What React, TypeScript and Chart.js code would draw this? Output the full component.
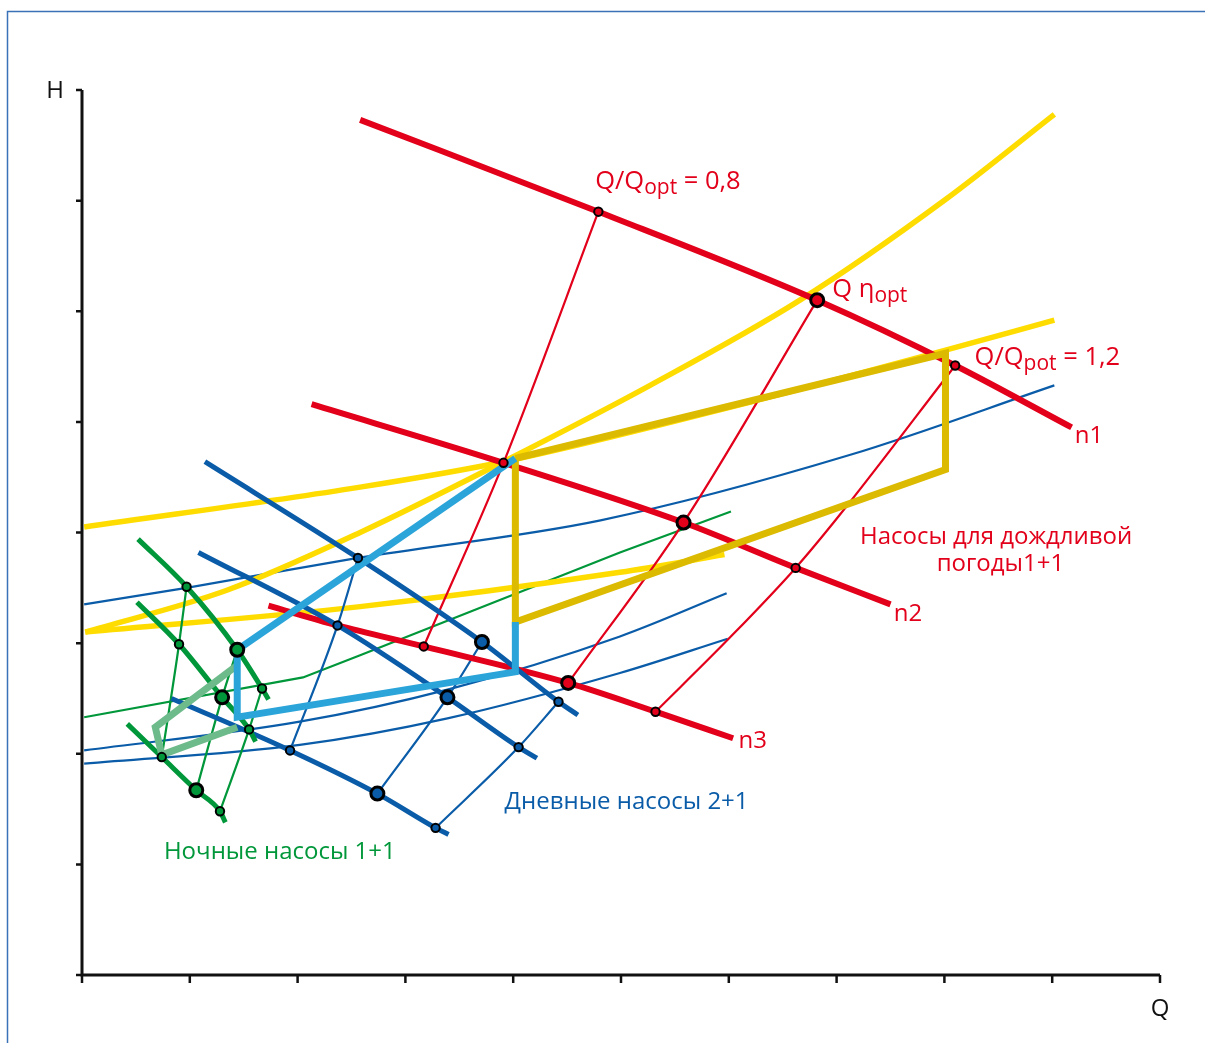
import { useEffect, useRef } from 'react';
import { Chart, registerables } from 'chart.js';

Chart.register(...registerables);

// ---------- axis ticks (relative units, no numbers shown) ----------
const qTickValues = [0, 1, 2, 3, 4, 5, 6, 7, 8, 9, 10];
const hTickValues = [0, 1, 2, 3, 4, 5, 6, 7, 8];

// ---------- yellow system curves ----------
const yellowSteepQ = [0.03, 1.35, 2.58, 3.91, 5.27, 6.66, 8.01, 9.02];
const yellowSteepH = [3.10, 3.48, 4.00, 4.64, 5.33, 6.10, 7.01, 7.78];
const yellowLowQ = [0.03, 2.58, 4.99, 5.96];
const yellowLowH = [3.10, 3.33, 3.64, 3.80];
const yellowHighQ = [0.02, 2.58, 3.91, 6.20, 8.02, 9.02];
const yellowHighH = [4.05, 4.41, 4.64, 5.18, 5.65, 5.92];

// ---------- operating envelopes ----------
const goldQ = [4.02, 8.01, 8.01, 4.02, 4.02];
const goldH = [4.67, 5.62, 4.57, 3.19, 4.67];
const lightBlueQ = [4.02, 1.44, 1.44, 4.02, 4.02];
const lightBlueH = [4.67, 2.94, 2.33, 2.74, 3.19];
const lightGreenQ = [1.44, 0.68, 0.74, 1.44];
const lightGreenH = [2.80, 2.24, 1.99, 2.24];

// ---------- red pump curves (rain pumps) ----------
const redN1Q = [2.58, 4.79, 6.82, 8.10, 9.18];
const redN1H = [7.73, 6.90, 6.10, 5.51, 4.95];
const redN2Q = [2.13, 3.91, 5.58, 6.62, 7.50];
const redN2H = [5.16, 4.63, 4.09, 3.68, 3.35];
const redN3Q = [1.73, 2.37, 3.17, 4.51, 5.32, 6.04];
const redN3H = [3.34, 3.16, 2.97, 2.64, 2.38, 2.14];
const redIso08Q = [3.17, 3.91, 4.79];
const redIso08H = [2.97, 4.63, 6.90];
const redIsoOptQ = [4.51, 5.58, 6.82];
const redIsoOptH = [2.64, 4.09, 6.10];
const redIso12Q = [5.32, 6.01, 6.62, 7.03, 8.10];
const redIso12H = [2.38, 3.05, 3.68, 4.16, 5.51];
const redSmallQ = [4.79, 3.91, 3.17, 5.32, 6.62, 8.10];
const redSmallH = [6.90, 4.63, 2.97, 2.38, 3.68, 5.51];
const redBigQ = [6.82, 5.58, 4.51];
const redBigH = [6.10, 4.09, 2.64];

// ---------- blue (day pumps) ----------
const blueB1Q = [1.14, 2.56, 3.71, 4.42, 4.60];
const blueB1H = [4.64, 3.77, 3.01, 2.47, 2.35];
const blueB2Q = [1.08, 2.37, 3.39, 4.05, 4.22];
const blueB2H = [3.82, 3.16, 2.51, 2.06, 1.96];
const blueB3Q = [0.83, 1.93, 2.74, 3.28, 3.40];
const blueB3H = [2.50, 2.03, 1.64, 1.33, 1.27];
const blueSys1Q = [0.02, 0.97, 2.56, 4.81, 7.12, 9.02];
const blueSys1H = [3.35, 3.50, 3.77, 4.11, 4.70, 5.33];
const blueSys2Q = [0.02, 2.02, 3.39, 4.99, 5.98];
const blueSys2H = [2.03, 2.29, 2.58, 3.06, 3.45];
const blueSys3Q = [0.02, 2.02, 3.39, 4.99, 5.99];
const blueSys3H = [1.91, 2.08, 2.32, 2.73, 3.04];
const blueIso1Q = [1.93, 2.37, 2.56];
const blueIso1H = [2.03, 3.16, 3.77];
const blueIso2Q = [2.74, 3.39, 3.71];
const blueIso2H = [1.64, 2.51, 3.01];
const blueIso3Q = [3.28, 4.05, 4.42];
const blueIso3H = [1.33, 2.06, 2.47];
const blueSmallQ = [2.56, 2.37, 1.93, 4.05, 4.42, 3.28];
const blueSmallH = [3.77, 3.16, 2.03, 2.06, 2.47, 1.33];
const blueBigQ = [3.71, 3.39, 2.74];
const blueBigH = [3.01, 2.51, 1.64];

// ---------- green (night pumps) ----------
const greenG1Q = [0.52, 0.97, 1.44, 1.67, 1.73];
const greenG1H = [3.94, 3.51, 2.94, 2.59, 2.49];
const greenG2Q = [0.51, 0.90, 1.30, 1.55, 1.61];
const greenG2H = [3.37, 2.99, 2.51, 2.22, 2.11];
const greenG3Q = [0.42, 0.74, 1.06, 1.28, 1.33];
const greenG3H = [2.27, 1.97, 1.67, 1.48, 1.38];
const greenSysQ = [0.02, 2.05, 2.58, 4.99, 6.02];
const greenSysH = [2.33, 2.69, 2.89, 3.82, 4.19];
const greenIso1Q = [0.74, 0.90, 0.97];
const greenIso1H = [1.97, 2.99, 3.51];
const greenIso2Q = [1.06, 1.30, 1.44];
const greenIso2H = [1.67, 2.51, 2.94];
const greenIso3Q = [1.28, 1.55, 1.67];
const greenIso3H = [1.48, 2.22, 2.59];
const greenSmallQ = [0.97, 0.90, 0.74, 1.67, 1.55, 1.28];
const greenSmallH = [3.51, 2.99, 1.97, 2.59, 2.22, 1.48];
const greenBigQ = [1.44, 1.30, 1.06];
const greenBigH = [2.94, 2.51, 1.67];

// ---------- annotations ----------
const noteMain = ['Q/Q', 'Q η', 'Q/Q', 'n1', 'n2', 'n3', 'Насосы для дождливой', 'погоды1+1', 'Дневные насосы 2+1', 'Ночные насосы 1+1'];
const noteSub = ['opt', 'opt', 'pot', '', '', '', '', '', '', ''];
const noteTail = [' = 0,8', '', ' = 1,2', '', '', '', '', '', '', ''];
const noteQ = [4.76, 6.96, 8.28, 9.21, 7.53, 6.09, 8.48, 8.52, 3.92, 0.76];
const noteH = [7.17, 6.19, 5.58, 4.87, 3.26, 2.11, 3.96, 3.71, 1.56, 1.11];
const noteAlign = ['left', 'left', 'left', 'left', 'left', 'left', 'center', 'center', 'left', 'left'];
const noteGroup = ['red', 'red', 'red', 'red', 'red', 'red', 'red', 'red', 'blue', 'green'];

const RED = '#E2001A';
const BLUE = '#0A5CA8';
const GREEN = '#00973A';
const YELLOW = '#FFDC00';
const GOLD = '#DBBA00';
const LIGHTBLUE = '#2BA4D9';
const LIGHTGREEN = '#6DBA8A';
const COLORS: Record<string, string> = { red: RED, blue: BLUE, green: GREEN };
const FONT = '"Open Sans", "DejaVu Sans", sans-serif';

const pts = (xs: number[], ys: number[]) => xs.map((x, i) => ({ x, y: ys[i] }));

function lineDs(xs: number[], ys: number[], color: string, width: number, smooth: boolean) {
  return {
    type: 'line' as const,
    data: pts(xs, ys),
    borderColor: color,
    borderWidth: width,
    pointRadius: 0,
    fill: false,
    tension: 0,
    cubicInterpolationMode: smooth ? ('monotone' as const) : ('default' as const),
    borderCapStyle: 'butt' as const,
    borderJoinStyle: 'miter' as const,
    clip: false as const,
  };
}

function dotDs(xs: number[], ys: number[], color: string, big: boolean) {
  return {
    type: 'line' as const,
    data: pts(xs, ys),
    showLine: false,
    pointRadius: big ? 6.5 : 4.2,
    pointBorderWidth: big ? 3 : 2,
    pointBackgroundColor: color,
    pointBorderColor: '#000',
    borderColor: color,
    clip: false as const,
  };
}

const decor = {
  id: 'decor',
  beforeDraw(chart: any) {
    const ctx = chart.ctx;
    ctx.save();
    ctx.fillStyle = '#fff';
    ctx.fillRect(0, 0, chart.width, chart.height);
    ctx.strokeStyle = '#3a72b8';
    ctx.lineWidth = 1.5;
    ctx.strokeRect(7.5, 11.5, chart.width + 20, chart.height + 20);
    ctx.restore();
  },
  beforeDatasetsDraw(chart: any) {
    const ctx = chart.ctx;
    const xs = chart.scales.x;
    const ys = chart.scales.y;
    const x0 = xs.getPixelForValue(qTickValues[0]);
    const x1 = xs.getPixelForValue(qTickValues[qTickValues.length - 1]);
    const y0 = ys.getPixelForValue(hTickValues[0]);
    const y1 = ys.getPixelForValue(hTickValues[hTickValues.length - 1]);
    ctx.save();
    ctx.strokeStyle = '#111';
    ctx.lineWidth = 3;
    ctx.beginPath();
    ctx.moveTo(x0, y1);
    ctx.lineTo(x0, y0);
    ctx.lineTo(x1, y0);
    ctx.stroke();
    ctx.lineWidth = 2.5;
    ctx.beginPath();
    hTickValues.forEach((h) => {
      const y = ys.getPixelForValue(h);
      ctx.moveTo(x0 - 6, y);
      ctx.lineTo(x0, y);
    });
    qTickValues.forEach((q) => {
      const x = xs.getPixelForValue(q);
      ctx.moveTo(x, y0);
      ctx.lineTo(x, y0 + 8);
    });
    ctx.stroke();
    ctx.fillStyle = '#111';
    ctx.font = `24px ${FONT}`;
    ctx.textAlign = 'center';
    ctx.textBaseline = 'middle';
    ctx.fillText('H', x0 - 27, y1 + 1);
    ctx.fillText('Q', x1, y0 + 34);
    ctx.restore();
  },
  afterDatasetsDraw(chart: any) {
    const ctx = chart.ctx;
    const xs = chart.scales.x;
    const ys = chart.scales.y;
    ctx.save();
    ctx.textBaseline = 'middle';
    noteMain.forEach((main, i) => {
      const x = xs.getPixelForValue(noteQ[i]);
      const y = ys.getPixelForValue(noteH[i]);
      ctx.fillStyle = COLORS[noteGroup[i]];
      const hasSub = !!noteSub[i];
      const mainFont = `${hasSub ? 25.5 : 24}px ${FONT}`;
      const subFont = `21px ${FONT}`;
      if (noteAlign[i] === 'center') {
        ctx.font = mainFont;
        ctx.textAlign = 'center';
        ctx.fillText(main, x, y);
        return;
      }
      ctx.textAlign = 'left';
      let cx = x;
      ctx.font = mainFont;
      ctx.fillText(main, cx, y);
      cx += ctx.measureText(main).width;
      if (hasSub) {
        ctx.font = subFont;
        ctx.fillText(noteSub[i], cx, y + 6);
        cx += ctx.measureText(noteSub[i]).width;
      }
      if (noteTail[i]) {
        ctx.font = mainFont;
        ctx.fillText(noteTail[i], cx, y);
      }
    });
    ctx.restore();
  },
};

export default function App() {
  const ref = useRef<HTMLCanvasElement>(null);
  useEffect(() => {
    const layers: any[] = [
      // thin system curves
      lineDs(blueSys1Q, blueSys1H, BLUE, 2.2, true),
      lineDs(blueSys2Q, blueSys2H, BLUE, 2.2, true),
      lineDs(blueSys3Q, blueSys3H, BLUE, 2.2, true),
      lineDs(greenSysQ, greenSysH, GREEN, 2.2, false),
      // yellow system curves
      lineDs(yellowLowQ, yellowLowH, YELLOW, 5.5, true),
      lineDs(yellowHighQ, yellowHighH, YELLOW, 5.5, true),
      lineDs(yellowSteepQ, yellowSteepH, YELLOW, 5.5, true),
      // thin iso-efficiency lines
      lineDs(redIso08Q, redIso08H, RED, 2.2, true),
      lineDs(redIsoOptQ, redIsoOptH, RED, 2.2, true),
      lineDs(redIso12Q, redIso12H, RED, 2.2, true),
      lineDs(blueIso1Q, blueIso1H, BLUE, 2.2, true),
      lineDs(blueIso2Q, blueIso2H, BLUE, 2.2, true),
      lineDs(blueIso3Q, blueIso3H, BLUE, 2.2, true),
      lineDs(greenIso1Q, greenIso1H, GREEN, 2.2, true),
      lineDs(greenIso2Q, greenIso2H, GREEN, 2.2, true),
      lineDs(greenIso3Q, greenIso3H, GREEN, 2.2, true),
      // pump curves
      lineDs(redN1Q, redN1H, RED, 6, true),
      lineDs(redN2Q, redN2H, RED, 6, true),
      lineDs(redN3Q, redN3H, RED, 6, true),
      lineDs(blueB1Q, blueB1H, BLUE, 5, true),
      lineDs(blueB2Q, blueB2H, BLUE, 5, true),
      lineDs(blueB3Q, blueB3H, BLUE, 5, true),
      lineDs(greenG1Q, greenG1H, GREEN, 5, true),
      lineDs(greenG2Q, greenG2H, GREEN, 5, true),
      lineDs(greenG3Q, greenG3H, GREEN, 5, true),
      // operating envelopes
      lineDs(goldQ, goldH, GOLD, 7, false),
      lineDs(lightGreenQ, lightGreenH, LIGHTGREEN, 7, false),
      lineDs(lightBlueQ, lightBlueH, LIGHTBLUE, 7, false),
      // points
      dotDs(redSmallQ, redSmallH, RED, false),
      dotDs(redBigQ, redBigH, RED, true),
      dotDs(blueSmallQ, blueSmallH, BLUE, false),
      dotDs(blueBigQ, blueBigH, BLUE, true),
      dotDs(greenSmallQ, greenSmallH, GREEN, false),
      dotDs(greenBigQ, greenBigH, GREEN, true),
    ];
    const n = layers.length;
    layers.forEach((d, i) => { d.order = n - i; });
    const chart = new Chart(ref.current!, {
      type: 'line',
      data: { datasets: layers },
      options: {
        responsive: false,
        animation: false,
        devicePixelRatio: 1,
        events: [],
        layout: { padding: { left: 82, right: 45, top: 90, bottom: 68 } },
        plugins: { legend: { display: false }, tooltip: { enabled: false } },
        scales: {
          x: { type: 'linear', min: qTickValues[0], max: qTickValues[qTickValues.length - 1], display: false },
          y: { type: 'linear', min: hTickValues[0], max: hTickValues[hTickValues.length - 1], display: false },
        },
      },
      plugins: [decor],
    } as any);
    return () => chart.destroy();
  }, []);
  return (
    <div style={{ position: 'absolute', left: 0, top: 0, width: 1205, height: 1043, background: '#fff' }}>
      <canvas ref={ref} width={1205} height={1043} style={{ display: 'block' }} />
    </div>
  );
}
